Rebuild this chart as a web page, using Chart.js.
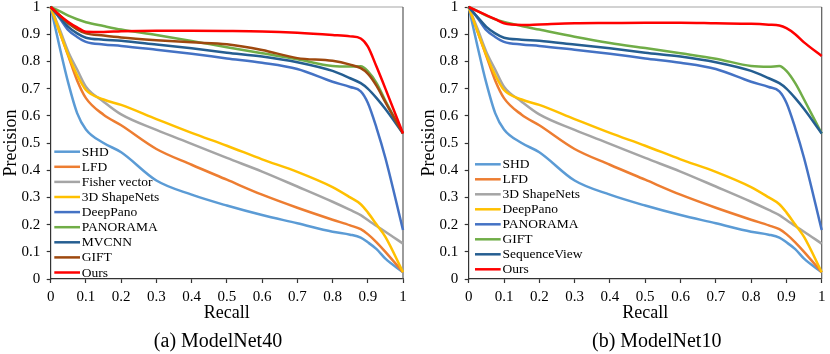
<!DOCTYPE html>
<html><head><meta charset="utf-8">
<script src="https://cdn.jsdelivr.net/npm/chart.js@4/dist/chart.umd.min.js"></script>
<style>
html,body{margin:0;padding:0;background:#fff;}
#wrap{position:relative;width:830px;height:354px;overflow:hidden;background:#fff;}
canvas{position:absolute;top:0;}
.cap{position:absolute;top:328px;font-family:"Liberation Serif","Times New Roman",serif;font-size:20px;line-height:24px;color:#000;white-space:nowrap;transform:translateX(-50%);}
</style></head><body>
<div id="wrap">
<canvas id="c1" width="415" height="354" style="left:0"></canvas>
<canvas id="c2" width="415" height="354" style="left:415px"></canvas>
<div class="cap" style="left:218px">(a) ModelNet40</div>
<div class="cap" style="left:656.7px">(b) ModelNet10</div>
</div>
<script>
// ---- shared recall positions ----
const recall = [0, 0.025, 0.05, 0.075, 0.1, 0.15, 0.2, 0.3, 0.4, 0.5, 0.6, 0.7, 0.8, 0.85, 0.88, 0.9, 0.925, 0.95, 1];
const yTicks = [0, 0.1, 0.2, 0.3, 0.4, 0.5, 0.6, 0.7, 0.8, 0.9, 1];
const xTicks = [0, 0.1, 0.2, 0.3, 0.4, 0.5, 0.6, 0.7, 0.8, 0.9, 1];

// ---- (a) ModelNet40 ----
const labels40 = ["SHD", "LFD", "Fisher vector", "3D ShapeNets", "DeepPano", "PANORAMA", "MVCNN", "GIFT", "Ours"];
const shd40       = [1, .855, .72, .61, .55, .50, .466, .362, .31, .27, .235, .205, .174, .163, .152, .135, .11, .075, .025];
const lfd40       = [1, .91, .82, .73, .665, .604, .565, .478, .42, .365, .31, .262, .218, .197, .183, .165, .135, .10, .025];
const fisher40    = [1, .92, .835, .77, .707, .652, .605, .548, .497, .445, .395, .34, .284, .254, .235, .217, .195, .174, .13];
const shapenets40 = [1, .91, .823, .75, .695, .66, .64, .588, .537, .49, .44, .394, .338, .30, .275, .245, .20, .155, .025];
const deeppano40  = [1, .96, .915, .89, .872, .862, .857, .843, .828, .811, .795, .772, .725, .706, .69, .648, .555, .445, .18];
const panorama40  = [1, .985, .968, .955, .944, .93, .917, .897, .875, .852, .83, .808, .783, .781, .782, .764, .72, .655, .535];
const mvcnn40     = [1, .963, .927, .903, .887, .88, .876, .862, .848, .832, .818, .797, .765, .738, .72, .70, .665, .625, .535];
const gift40      = [1, .97, .94, .918, .903, .895, .888, .878, .870, .863, .842, .812, .802, .788, .775, .755, .71, .65, .535];
const ours40      = [1, .97, .945, .925, .909, .908, .911, .913, .913, .912, .91, .905, .897, .892, .884, .855, .78, .70, .535];

// ---- (b) ModelNet10 ----
const labels10 = ["SHD", "LFD", "3D ShapeNets", "DeepPano", "PANORAMA", "GIFT", "SequenceView", "Ours"];
const shd10          = [1, .855, .72, .61, .55, .50, .466, .362, .31, .27, .235, .205, .174, .163, .152, .135, .11, .075, .025];
const lfd10          = [1, .91, .82, .73, .665, .604, .565, .478, .42, .365, .31, .262, .218, .197, .183, .165, .135, .10, .025];
const shapenets10    = [1, .92, .835, .77, .707, .652, .605, .548, .497, .445, .395, .34, .284, .254, .235, .217, .195, .174, .13];
const deeppano10     = [1, .91, .823, .75, .695, .66, .64, .588, .537, .49, .44, .394, .338, .30, .275, .245, .20, .155, .025];
const panorama10     = [1, .96, .915, .89, .872, .862, .857, .843, .828, .811, .795, .772, .725, .706, .69, .648, .555, .445, .18];
const gift10         = [1, .985, .968, .955, .945, .93, .917, .891, .868, .849, .83, .81, .783, .78, .783, .765, .72, .66, .535];
const sequenceview10 = [1, .963, .927, .903, .887, .88, .876, .862, .848, .832, .818, .797, .765, .738, .72, .70, .665, .625, .535];
const ours10         = [1, .985, .97, .955, .94, .934, .936, .94, .941, .942, .942, .94, .938, .935, .932, .922, .90, .87, .82];

const colors40 = ["#5B9BD5", "#ED7D31", "#A5A5A5", "#FFC000", "#4472C4", "#70AD47", "#255E91", "#9E480E", "#FF0000"];
const colors10 = ["#5B9BD5", "#ED7D31", "#A5A5A5", "#FFC000", "#4472C4", "#70AD47", "#255E91", "#FF0000"];

const FONT = '"Liberation Serif", "Times New Roman", serif';
Chart.defaults.font.family = FONT;
Chart.defaults.color = '#000';

function fmt(v) { return String(parseFloat(Number(v).toFixed(1))); }

const insideLegend = {
  id: 'insideLegend',
  afterDraw(chart, args, o) {
    const ctx = chart.ctx;
    ctx.save();
    ctx.font = o.fontSize + 'px ' + FONT;
    ctx.textBaseline = 'middle';
    ctx.textAlign = 'left';
    chart.data.datasets.forEach((ds, i) => {
      const y = o.y0 + i * o.dy;
      ctx.strokeStyle = ds.borderColor;
      ctx.lineWidth = 2.5;
      ctx.beginPath();
      ctx.moveTo(o.x0, y);
      ctx.lineTo(o.x1, y);
      ctx.stroke();
      ctx.fillStyle = '#000';
      ctx.fillText(ds.label, o.x1 + 1.7, y + 0.5);
    });
    ctx.restore();
  }
};

const frame = {
  id: 'frame',
  beforeDatasetsDraw(chart) {
    const {ctx, chartArea: a} = chart;
    ctx.save();
    ctx.lineWidth = 1.2;
    ctx.strokeStyle = '#A6A6A6';
    ctx.beginPath(); ctx.moveTo(a.left, a.top); ctx.lineTo(a.right, a.top); ctx.stroke();
    ctx.strokeStyle = '#595959';
    ctx.beginPath(); ctx.moveTo(a.right, a.top); ctx.lineTo(a.right, a.bottom); ctx.stroke();
    ctx.restore();
  }
};

function makeChart(id, labels, series, colors, cfg) {
  const n = series.length;
  const datasets = series.map((vals, i) => ({
    label: labels[i],
    data: recall.map((r, k) => ({x: r, y: vals[k]})),
    borderColor: colors[i],
    backgroundColor: colors[i],
    borderWidth: 2.5,
    pointRadius: 0,
    fill: false,
    cubicInterpolationMode: 'monotone',
    clip: false,
    order: n - i
  }));
  return new Chart(document.getElementById(id), {
    type: 'line',
    data: {datasets},
    options: {
      responsive: false,
      animation: false,
      devicePixelRatio: 1,
      layout: {padding: {top: 7, right: cfg.rightPad, bottom: 0, left: 0}},
      plugins: {
        legend: {display: false},
        tooltip: {enabled: false},
        insideLegend: cfg.legend
      },
      scales: {
        x: {
          type: 'linear', min: 0, max: 1,
          afterBuildTicks: s => { s.ticks = xTicks.map(v => ({value: v})); },
          ticks: {padding: 4.7, color: '#000', font: {size: 15}, callback: fmt, maxRotation: 0, autoSkip: false},
          grid: {drawOnChartArea: false, drawTicks: true, tickLength: 4, color: '#333', tickWidth: 1.2},
          border: {display: true, color: '#333', width: 1.2},
          title: {display: true, text: 'Recall', color: '#000', font: {size: 18}, padding: {top: 0, bottom: 30}},
          afterFit: s => { s.height = 75; s.paddingLeft = 0; s.paddingRight = 0; }
        },
        y: {
          min: 0, max: 1,
          afterBuildTicks: s => { s.ticks = yTicks.map(v => ({value: v})); },
          ticks: {padding: 6.5, color: '#000', font: {size: 15}, callback: fmt, autoSkip: false},
          grid: {drawOnChartArea: false, drawTicks: true, tickLength: 4, color: '#333', tickWidth: 1.2},
          border: {display: true, color: '#333', width: 1.2},
          title: {display: true, text: 'Precision', color: '#000', font: {size: 18}, padding: {top: cfg.yTitlePad, bottom: 0}},
          afterFit: s => { s.width = cfg.yWidth; s.paddingTop = 0; s.paddingBottom = 0; }
        }
      }
    },
    plugins: [frame, insideLegend]
  });
}

makeChart('c1', labels40,
  [shd40, lfd40, fisher40, shapenets40, deeppano40, panorama40, mvcnn40, gift40, ours40],
  colors40,
  {rightPad: 12, yWidth: 50.7, yTitlePad: 0,
   legend: {x0: 54.3, x1: 80, y0: 151.7, dy: 15.1, fontSize: 13.5}});

makeChart('c2', labels10,
  [shd10, lfd10, shapenets10, deeppano10, panorama10, gift10, sequenceview10, ours10],
  colors10,
  {rightPad: 8.3, yWidth: 53.7, yTitlePad: 3.7,
   legend: {x0: 60, x1: 85.7, y0: 164.3, dy: 15, fontSize: 13.5}});
</script>
</body></html>
